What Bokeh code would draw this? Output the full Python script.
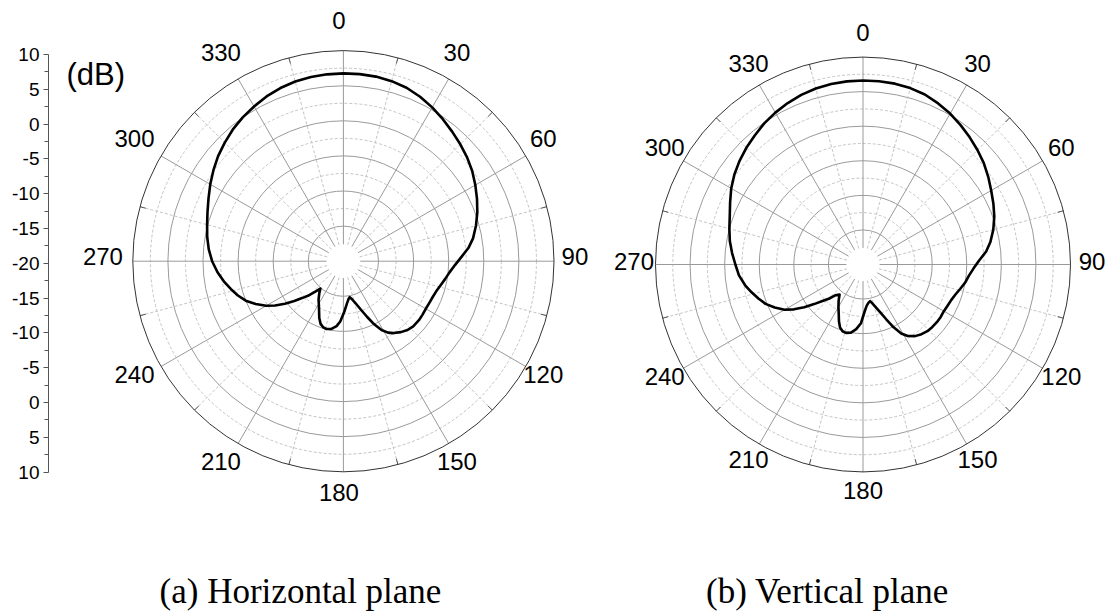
import numpy as np
from bokeh.plotting import figure
from bokeh.models import Range1d, LinearAxis, FixedTicker
from bokeh.layouts import row
from bokeh.embed import file_html
from bokeh.resources import INLINE
from bokeh.core.properties import value

# ---------------- data ----------------
# Horizontal plane: angle (deg, clockwise from top) and gain (dB)
h_angle = [0, 5, 10, 15, 20, 25, 30, 35, 40, 45, 50, 55, 60, 65, 70, 75, 80, 84,
           88, 92, 96, 100, 104, 108, 112, 116, 120, 124, 128, 133, 137, 141,
           145, 148, 151, 154, 157, 160, 164, 167, 170, 172, 175, 179, 183, 186,
           190, 194, 197, 200, 203, 206, 209, 213, 217, 220, 222, 225, 228, 231,
           234, 237, 240, 244, 248, 252, 256, 260, 265, 270, 275, 280, 285, 290,
           295, 300, 305, 310, 315, 320, 325, 330, 335, 340, 345, 350, 355, 360]
h_gain = [6.75, 6.75, 6.7, 6.55, 6.3, 5.85, 5.3, 4.7, 4.1, 3.55, 3.0, 2.4, 1.7,
          1.0, 0.3, -0.45, -1.25, -2.1, -3.2, -4.1, -4.8, -5.3, -5.75, -6.1,
          -6.3, -6.4, -6.45, -6.4, -6.35, -6.4, -6.6, -7.0, -7.5, -8.0, -8.8,
          -10.0, -11.4, -12.6, -13.8, -14.4, -14.8, -14.6, -14.0, -12.8, -11.4,
          -10.7, -10.2, -10.05, -10.15, -10.5, -11.2, -12.1, -12.8, -13.5,
          -14.3, -14.9, -14.3, -13.2, -12.2, -11.0, -9.7, -8.4, -7.3, -6.1,
          -5.0, -4.2, -3.5, -2.8, -2.0, -1.3, -0.75, -0.3, 0.1, 0.6, 1.2, 1.9,
          2.6, 3.3, 3.9, 4.5, 5.0, 5.45, 5.9, 6.25, 6.5, 6.65, 6.72, 6.75]

# Vertical plane
v_angle = [0, 5, 10, 15, 20, 25, 30, 35, 40, 45, 50, 55, 60, 65, 70, 75, 80, 84,
           88, 92, 96, 100, 104, 108, 112, 116, 120, 124, 128, 132, 136, 140,
           144, 148, 151, 154, 157, 160, 164, 167, 169, 172, 175, 178, 182, 186,
           190, 194, 197, 200, 203, 206, 210, 214, 218, 222, 225, 228, 231, 234,
           237, 240, 244, 248, 252, 256, 260, 265, 270, 275, 280, 285, 290, 295,
           300, 305, 310, 315, 320, 325, 330, 335, 340, 345, 350, 355, 360]
v_gain = [6.6, 6.6, 6.55, 6.4, 6.15, 5.7, 5.2, 4.6, 4.0, 3.4, 2.8, 2.1, 1.4, 0.8,
          0.2, -0.5, -1.3, -2.1, -3.2, -4.0, -4.6, -5.0, -5.5, -5.95, -6.25,
          -6.4, -6.5, -6.45, -6.45, -6.5, -6.6, -6.85, -7.2, -7.8, -8.6, -9.9,
          -11.4, -12.6, -13.7, -14.3, -14.6, -14.4, -14.0, -13.2, -11.5, -10.6,
          -10.0, -9.8, -9.9, -10.3, -11.1, -12.0, -12.9, -13.7, -14.5, -14.0,
          -13.0, -12.1, -10.9, -9.5, -8.1, -6.9, -5.8, -4.8, -4.1, -3.4, -2.7,
          -2.0, -1.55, -1.0, -0.45, 0.0, 0.5, 1.2, 2.0, 2.7, 3.3, 3.85, 4.35,
          4.9, 5.35, 5.75, 6.1, 6.35, 6.5, 6.58, 6.6]

angle_ticks = list(range(0, 360, 30))
db_ticks = [10, 5, 0, -5, -10, -15, -20]
captions = ["(a) Horizontal plane", "(b) Vertical plane"]
scale_title = "(dB)"

DB_MIN, DB_MAX = -20, 10
R_OUT = DB_MAX - DB_MIN          # 30 units
R_HOLE = 2.4

FONT = value("Liberation Sans")
SERIF = value("Liberation Serif")


def to_xy(angle_deg, gain_db):
    a = np.radians(np.asarray(angle_deg, dtype=float))
    r = np.asarray(gain_db, dtype=float) - DB_MIN
    return r * np.sin(a), r * np.cos(a)


def polar_panel(width, height, frame_left, cx, cy, s, ang, gain, caption,
                cap_x, cap_y, lab_r, lab_dx, lab_dy):
    """cx, cy: centre in pixels of the frame; s: pixels per dB."""
    fw = width - frame_left
    p = figure(width=width, height=height, output_backend="svg",
               toolbar_location=None, x_axis_location=None, y_axis_location=None,
               x_range=Range1d(-cx / s, (fw - cx) / s),
               y_range=Range1d(-(height - cy) / s, cy / s),
               min_border_left=frame_left, min_border_right=0,
               min_border_top=0, min_border_bottom=0)
    p.outline_line_color = None
    p.background_fill_color = "white"
    p.border_fill_color = "white"
    p.xgrid.visible = False
    p.ygrid.visible = False

    # rings
    solid_r = [d - DB_MIN for d in range(-15, 10, 5)]
    dash_r = [d + 2.5 - DB_MIN for d in range(-15, 10, 5)]
    p.circle(x=[0] * len(dash_r), y=[0] * len(dash_r), radius=dash_r,
             fill_color=None, line_color="#c4c4c4", line_width=1, line_dash="3 2")
    p.circle(x=[0] * len(solid_r), y=[0] * len(solid_r), radius=solid_r,
             fill_color=None, line_color="#9a9a9a", line_width=1)

    # spokes
    dash_a = np.radians(np.arange(15, 360, 30))
    p.segment(R_HOLE * np.sin(dash_a), R_HOLE * np.cos(dash_a),
              R_OUT * np.sin(dash_a), R_OUT * np.cos(dash_a),
              line_color="#c4c4c4", line_width=1, line_dash="3 2")
    sol_a = np.radians(np.asarray(angle_ticks, dtype=float))
    p.segment(R_HOLE * np.sin(sol_a), R_HOLE * np.cos(sol_a),
              R_OUT * np.sin(sol_a), R_OUT * np.cos(sol_a),
              line_color="#9a9a9a", line_width=1)
    tick_in = R_OUT - 6 / s
    p.segment(tick_in * np.sin(dash_a), tick_in * np.cos(dash_a),
              R_OUT * np.sin(dash_a), R_OUT * np.cos(dash_a),
              line_color="#555555", line_width=1)
    p.circle(x=[0], y=[0], radius=[R_OUT], fill_color=None,
             line_color="#333333", line_width=1)

    # pattern
    x, y = to_xy(ang, gain)
    p.line(x, y, line_color="black", line_width=2.6, line_join="round")

    # angle labels
    la = np.radians(np.asarray(angle_ticks, dtype=float))
    rl = lab_r / s
    p.text(x=rl * np.sin(la) + lab_dx / s, y=rl * np.cos(la) + lab_dy / s,
           text=[str(a) for a in angle_ticks], text_align="center",
           text_baseline="middle", text_font=FONT, text_font_size="24px",
           text_color="black")

    # caption
    p.text(x=[(cap_x - cx) / s], y=[(cy - cap_y) / s], text=[caption],
           text_align="center", text_baseline="middle", text_font=SERIF,
           text_font_size="35px", text_color="black")
    return p


H = 615
# left panel: whole-window x 0..600, frame starts at 48
LEFT_W, FRAME_L = 600, 48
pa = polar_panel(LEFT_W, H, FRAME_L, cx=342.9 - FRAME_L, cy=260.7, s=7.02,
                 ang=h_angle, gain=h_gain, caption=captions[0],
                 cap_x=300 - FRAME_L, cap_y=591, lab_r=236, lab_dx=-4.5, lab_dy=4.5)

# dB scale on the left (mirrored: 10 .. -20 .. 10)
ax_s = 6.96
ax_cy = 262.8
pa.extra_y_ranges = {"db": Range1d(-(H - ax_cy) / ax_s, ax_cy / ax_s)}
pos = [d - DB_MIN for d in db_ticks]
ticks = sorted(set(pos + [-u for u in pos]))
overrides = {}
for d, u in zip(db_ticks, pos):
    overrides[u] = str(d)
    overrides[-u] = str(d)
minor = [t + 2.5 for t in ticks[:-1]]
axis = LinearAxis(y_range_name="db",
                  ticker=FixedTicker(ticks=ticks, minor_ticks=minor),
                  major_label_overrides=overrides, bounds=(-R_OUT, R_OUT),
                  axis_line_color="#555555", major_tick_line_color="#555555",
                  minor_tick_line_color="#555555",
                  major_tick_in=0, major_tick_out=5, minor_tick_in=0,
                  minor_tick_out=4, major_label_standoff=4,
                  major_label_text_font="Liberation Sans",
                  major_label_text_font_size="19px",
                  major_label_text_color="black")
pa.add_layout(axis, "left")

# "(dB)" title of the scale
pa.text(x=[(66 - 342.9) / 7.02], y=[(260.7 - 74) / 7.02], text=[scale_title],
        text_align="left", text_baseline="middle", text_font=FONT,
        text_font_size="31px", text_color="black")

RIGHT_W = 1110 - LEFT_W
pb = polar_panel(RIGHT_W, H, 0, cx=862.5 - LEFT_W, cy=264.0, s=6.917,
                 ang=v_angle, gain=v_gain, caption=captions[1],
                 cap_x=827 - LEFT_W, cap_y=591, lab_r=229, lab_dx=0, lab_dy=3)

layout = row(pa, pb, spacing=0)
open("out.html", "w").write(file_html(layout, INLINE))
